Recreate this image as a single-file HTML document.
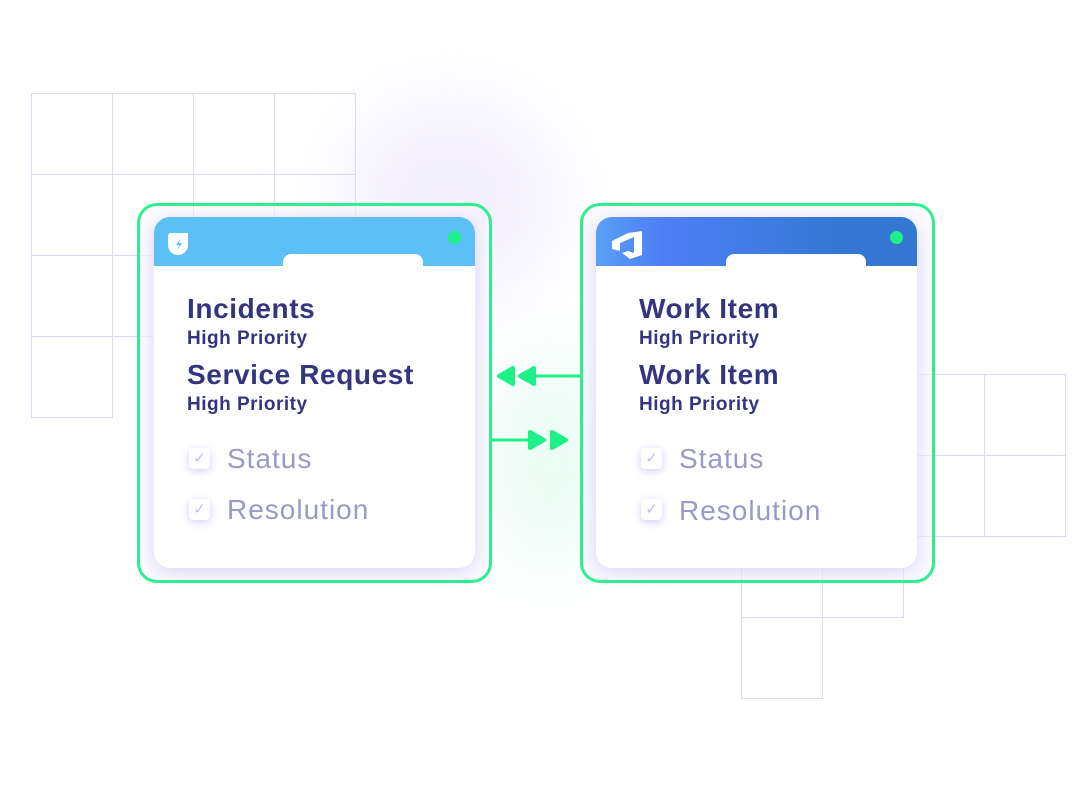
<!DOCTYPE html>
<html><head><style>
body{margin:0;width:1090px;height:800px;background:#fff;position:relative;overflow:hidden;font-family:"Liberation Sans",sans-serif}
.g{position:absolute;border:1.5px solid #dcdaf0;box-sizing:border-box;width:82px;height:82px}
.glow{position:absolute;border-radius:50%;filter:blur(40px)}
.outer{position:absolute;border:3px solid #2ef08e;border-radius:20px;box-sizing:border-box;width:355px;height:380px;top:203px;background:rgba(250,248,255,.6)}
.card{position:absolute;width:321px;height:351px;top:217px;background:#fff;border-radius:16px;overflow:hidden;box-shadow:0 4px 18px rgba(160,140,230,.35)}
.hdr{position:absolute;left:0;top:0;width:100%;height:49px}
.tab{position:absolute;top:37px;width:140px;height:20px;background:#fff;border-radius:8px 8px 0 0}
.dot{position:absolute;right:14px;top:14px;width:13px;height:13px;border-radius:50%;background:#1ef08a}
.t{position:absolute;left:33px;color:#34357f;font-weight:bold;white-space:nowrap}
.h1{font-size:28px;letter-spacing:0.6px}.h2{font-size:19px;letter-spacing:0.5px}
.ck{position:absolute;left:35px;width:21px;height:21px;border-radius:4px;background:#fff;box-shadow:0 2px 8px rgba(170,150,240,.5);color:#c9b8f7;font-size:15px;text-align:center;line-height:21px}
.s{position:absolute;left:73px;color:#9a9ac4;font-size:28px;letter-spacing:1px;white-space:nowrap}
</style></head><body>
<div class="glow" style="left:340px;top:100px;width:220px;height:200px;background:rgba(210,195,250,.25)"></div>
<div class="glow" style="left:480px;top:350px;width:140px;height:220px;background:rgba(160,240,205,.2)"></div>
<!-- left grid -->
<div class="g" style="left:31px;top:93px"></div><div class="g" style="left:112px;top:93px"></div><div class="g" style="left:193px;top:93px"></div><div class="g" style="left:274px;top:93px"></div>
<div class="g" style="left:31px;top:174px"></div><div class="g" style="left:112px;top:174px"></div><div class="g" style="left:193px;top:174px"></div><div class="g" style="left:274px;top:174px"></div>
<div class="g" style="left:31px;top:255px"></div><div class="g" style="left:112px;top:255px"></div>
<div class="g" style="left:31px;top:336px"></div>
<!-- right grid -->
<div class="g" style="left:903px;top:374px"></div><div class="g" style="left:984px;top:374px"></div>
<div class="g" style="left:903px;top:455px"></div><div class="g" style="left:984px;top:455px"></div>
<div class="g" style="left:741px;top:536px"></div><div class="g" style="left:822px;top:536px"></div>
<div class="g" style="left:741px;top:617px"></div>

<div class="outer" style="left:137px"></div>
<div class="outer" style="left:580px"></div>

<svg style="position:absolute;left:0;top:0" width="1090" height="800">
<g fill="#1ef08a" stroke="#1ef08a" stroke-linejoin="round">
<line x1="580" y1="376" x2="525" y2="376" stroke-width="3"/>
<polygon points="499,376 513,368 513,384" stroke-width="4"/>
<polygon points="520,376 534,368 534,384" stroke-width="4"/>
<line x1="492" y1="440" x2="535" y2="440" stroke-width="3"/>
<polygon points="544,440 530,432 530,448" stroke-width="4"/>
<polygon points="566,440 552,432 552,448" stroke-width="4"/>
</g></svg>

<div class="card" style="left:154px">
<div class="hdr" style="background:#5bc0f5"></div>
<div class="tab" style="left:129px"></div>
<div class="dot"></div>
<svg style="position:absolute;left:12px;top:14px" width="26" height="26"><path d="M4 2 H22 V14 A10 10 0 0 1 12 24 A10 10 0 0 1 2 14 V4 Z" fill="#fff"/><path d="M14 8 L10 14 H13 L11 19 L16 12 H13 Z" fill="#5bc0f5"/></svg>
<div class="t h1" style="top:76px">Incidents</div>
<div class="t h2" style="top:111px">High Priority</div>
<div class="t h1" style="top:142px">Service Request</div>
<div class="t h2" style="top:177px">High Priority</div>
<div class="ck" style="top:231px">✓</div><div class="s" style="top:226px">Status</div>
<div class="ck" style="top:282px">✓</div><div class="s" style="top:277px">Resolution</div>
</div>

<div class="card" style="left:596px">
<div class="hdr" style="background:linear-gradient(90deg,#58a0f5,#4f7ff5 20%,#3478d4 75%)"></div>
<div class="tab" style="left:130px"></div>
<div class="dot"></div>
<svg style="position:absolute;left:14px;top:12px" width="34" height="32"><path d="M2 12 L18 4 L32 2 V26 L20 30 L12 24 L18 22 L24 24 V8 L10 14 V22 L2 20 Z" fill="#fff"/></svg>
<div class="t h1" style="left:43px;top:76px">Work Item</div>
<div class="t h2" style="left:43px;top:111px">High Priority</div>
<div class="t h1" style="left:43px;top:142px">Work Item</div>
<div class="t h2" style="left:43px;top:177px">High Priority</div>
<div class="ck" style="left:45px;top:231px">✓</div><div class="s" style="left:83px;top:226px">Status</div>
<div class="ck" style="left:45px;top:282px">✓</div><div class="s" style="left:83px;top:278px">Resolution</div>
</div>
</body></html>
